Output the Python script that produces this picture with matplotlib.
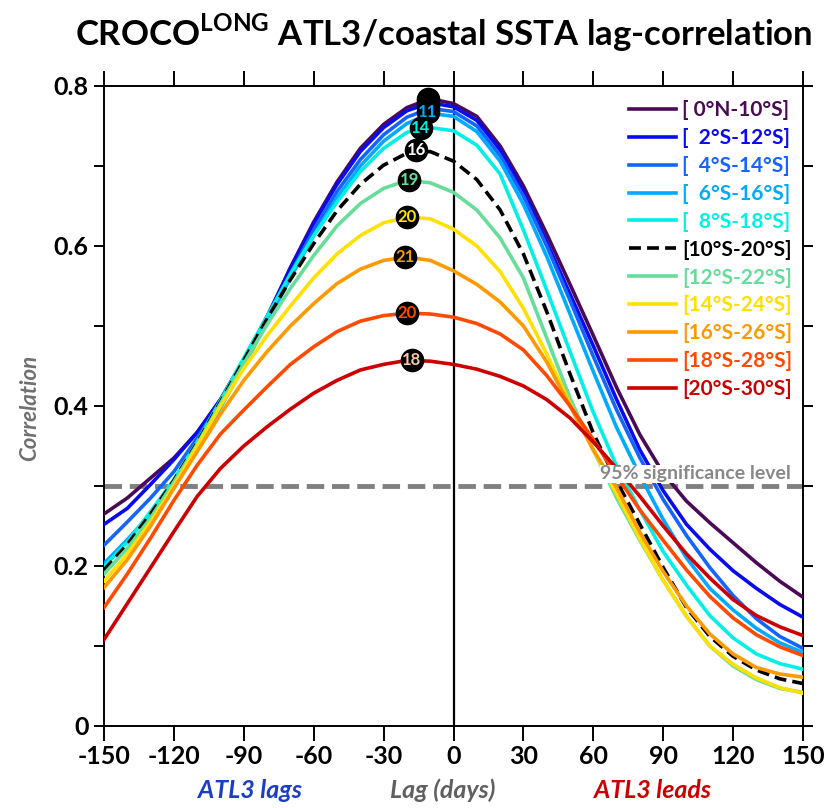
import numpy as np
import matplotlib
matplotlib.use('Agg')
import matplotlib.pyplot as plt

plt.rcParams['font.family'] = ['Lato', 'DejaVu Sans']
plt.rcParams['mathtext.fontset'] = 'custom'
plt.rcParams['mathtext.bf'] = 'Lato:bold'
plt.rcParams['mathtext.rm'] = 'Lato'

# lag in days (negative: ATL3 lags)
lags = [-150, -140, -130, -120, -110, -100, -90, -80, -70, -60, -50, -40, -30, -20, -10,
        0, 10, 20, 30, 40, 50, 60, 70, 80, 90, 100, 110, 120, 130, 140, 150]

r00_10 = [0.265, 0.285, 0.31, 0.335, 0.367, 0.408, 0.458, 0.51, 0.573, 0.63, 0.68, 0.722, 0.752, 0.773, 0.784,
          0.778, 0.762, 0.725, 0.675, 0.615, 0.552, 0.488, 0.423, 0.364, 0.316, 0.281, 0.254, 0.229, 0.204, 0.181, 0.161]
r02_12 = [0.252, 0.272, 0.302, 0.333, 0.367, 0.408, 0.458, 0.512, 0.572, 0.628, 0.677, 0.718, 0.748, 0.769, 0.779,
          0.774, 0.757, 0.72, 0.668, 0.605, 0.54, 0.475, 0.408, 0.345, 0.294, 0.252, 0.221, 0.194, 0.172, 0.152, 0.136]
r04_14 = [0.226, 0.255, 0.285, 0.318, 0.36, 0.405, 0.455, 0.508, 0.565, 0.62, 0.668, 0.708, 0.739, 0.761, 0.772,
          0.768, 0.75, 0.713, 0.662, 0.6, 0.532, 0.462, 0.395, 0.335, 0.283, 0.238, 0.198, 0.163, 0.134, 0.112, 0.097]
r06_16 = [0.203, 0.233, 0.265, 0.303, 0.347, 0.398, 0.45, 0.505, 0.56, 0.613, 0.66, 0.7, 0.731, 0.753, 0.766,
          0.762, 0.743, 0.706, 0.652, 0.587, 0.515, 0.443, 0.373, 0.313, 0.258, 0.21, 0.172, 0.145, 0.122, 0.104, 0.092]
r08_18 = [0.199, 0.23, 0.268, 0.308, 0.355, 0.407, 0.46, 0.512, 0.565, 0.613, 0.655, 0.693, 0.722, 0.742, 0.748,
          0.744, 0.726, 0.69, 0.62, 0.545, 0.468, 0.392, 0.325, 0.27, 0.218, 0.176, 0.138, 0.11, 0.09, 0.078, 0.071]
r10_20 = [0.195, 0.227, 0.265, 0.307, 0.354, 0.405, 0.457, 0.509, 0.558, 0.603, 0.644, 0.677, 0.701, 0.716, 0.718,
          0.706, 0.683, 0.645, 0.59, 0.518, 0.44, 0.366, 0.306, 0.252, 0.198, 0.148, 0.112, 0.087, 0.07, 0.059, 0.053]
r12_22 = [0.19, 0.222, 0.26, 0.305, 0.352, 0.403, 0.453, 0.502, 0.547, 0.588, 0.625, 0.653, 0.672, 0.682, 0.679,
          0.667, 0.645, 0.61, 0.56, 0.485, 0.41, 0.345, 0.285, 0.232, 0.182, 0.137, 0.1, 0.075, 0.058, 0.047, 0.042]
r14_24 = [0.181, 0.215, 0.255, 0.30, 0.35, 0.40, 0.447, 0.488, 0.525, 0.56, 0.59, 0.613, 0.629, 0.636, 0.634,
          0.621, 0.60, 0.568, 0.522, 0.465, 0.403, 0.345, 0.29, 0.234, 0.182, 0.137, 0.1, 0.077, 0.06, 0.048, 0.041]
r16_26 = [0.173, 0.208, 0.25, 0.297, 0.343, 0.39, 0.432, 0.468, 0.50, 0.528, 0.553, 0.571, 0.582, 0.586, 0.582,
          0.569, 0.552, 0.53, 0.50, 0.455, 0.40, 0.345, 0.298, 0.242, 0.193, 0.15, 0.115, 0.09, 0.073, 0.065, 0.061]
r18_28 = [0.148, 0.19, 0.235, 0.282, 0.326, 0.365, 0.395, 0.424, 0.452, 0.474, 0.493, 0.506, 0.513, 0.516, 0.515,
          0.511, 0.503, 0.49, 0.47, 0.438, 0.40, 0.358, 0.313, 0.27, 0.232, 0.195, 0.162, 0.135, 0.114, 0.099, 0.088]
r20_30 = [0.108, 0.153, 0.198, 0.243, 0.287, 0.322, 0.35, 0.374, 0.396, 0.416, 0.432, 0.445, 0.452, 0.457, 0.456,
          0.452, 0.446, 0.437, 0.425, 0.408, 0.385, 0.355, 0.322, 0.287, 0.25, 0.215, 0.185, 0.158, 0.138, 0.124, 0.113]

series = [r00_10, r02_12, r04_14, r06_16, r08_18, r10_20, r12_22, r14_24, r16_26, r18_28, r20_30]
names = ['[ 0°N-10°S]', '[  2°S-12°S]', '[  4°S-14°S]', '[  6°S-16°S]', '[  8°S-18°S]', '[10°S-20°S]',
         '[12°S-22°S]', '[14°S-24°S]', '[16°S-26°S]', '[18°S-28°S]', '[20°S-30°S]']
colors = ['#4b0a55', '#0a0af0', '#1464ff', '#00aaff', '#00f0e6', '#000000',
          '#66dd99', '#ffe000', '#ff9900', '#ff4a00', '#cc0000']
txt_colors = ['#4b0a55', '#0a0af0', '#1464ff', '#00aaff', '#00f0e6', '#ffffff',
              '#66dd99', '#ffe000', '#ff9900', '#ff4a00', '#f8c8a8']

# lag of maximum correlation and its value (labels hidden under the stacked dots are left out)
peak_lag = [-11, -11, -11, -11, -14, -16, -19, -20, -21, -20, -18]
peak_val = [0.784, 0.779, 0.774, 0.768, 0.748, 0.720, 0.682, 0.636, 0.586, 0.516, 0.457]
peak_txt = ['', '', '', '11', '14', '16', '19', '20', '21', '20', '18']

fig = plt.figure(figsize=(8.3, 8.08), dpi=100)
ax = fig.add_axes([0.1253, 0.1015, 0.8422, 0.7921])

for i in range(len(series)):
    if i == 5:
        ax.plot(lags, series[i], color=colors[i], lw=2.6, dashes=(3.3, 1.7), label=names[i], zorder=3)
    else:
        ax.plot(lags, series[i], color=colors[i], lw=2.6, label=names[i], zorder=3)

ax.axhline(0.3, color='#808080', lw=3.5, dashes=(3.6, 1.6), zorder=2)
ax.axvline(0, color='k', lw=1.6, zorder=2)
ax.text(145, 0.315, '95% significance level', color='#888888', fontsize=14, fontweight='bold',
        ha='right', va='center', zorder=4,
        bbox=dict(facecolor='white', edgecolor='none', pad=0.5))

for i in range(len(series)):
    ax.plot(peak_lag[i], peak_val[i], 'o', ms=16, mfc='k', mec='k', zorder=10 + 2 * i)
    if peak_txt[i]:
        ax.text(peak_lag[i], peak_val[i], peak_txt[i], color=txt_colors[i], fontsize=12,
                fontweight='bold', ha='center', va='center', zorder=11 + 2 * i)

ax.set_xlim(-150, 150)
ax.set_ylim(0, 0.8)
xt = [-150, -120, -90, -60, -30, 0, 30, 60, 90, 120, 150]
ax.set_xticks(xt, [str(v) for v in xt], fontsize=18, fontweight='bold')
yt = [0, 0.1, 0.2, 0.3, 0.4, 0.5, 0.6, 0.7, 0.8]
ylab = ['0', '', '0.2', '', '0.4', '', '0.6', '', '0.8']
ax.set_yticks(yt, ylab, fontsize=18, fontweight='bold')
ax.tick_params(axis='x', direction='out', length=11, width=1.4, top=True, pad=3)
ax.tick_params(axis='y', direction='out', length=7, width=1.4, right=True, pad=4)
for s in ax.spines.values():
    s.set_linewidth(1.4)

leg = ax.legend(loc='upper right', bbox_to_anchor=(0.985, 0.978), frameon=False,
                prop={'weight': 'bold', 'size': 15}, handlelength=2.25, handletextpad=0.3,
                labelspacing=0.38, borderaxespad=0, borderpad=0)
for t, c in zip(leg.get_texts(), colors):
    t.set_color(c)

fig.text(0.535, 1 - 33 / 808, r'CROCO$^{\mathbf{LONG}}$ ATL3/coastal SSTA lag-correlation',
         ha='center', va='center', fontsize=25, fontweight='bold')
fig.text(30 / 830, 1 - 408 / 808, 'Correlation', rotation=90, ha='center', va='center',
         fontsize=16, fontweight='bold', style='italic', color='#707070')
fig.text(250 / 830, 1 - 790 / 808, 'ATL3 lags', ha='center', va='center',
         fontsize=18, fontweight='bold', style='italic', color='#1a3fc4')
fig.text(443 / 830, 1 - 790 / 808, 'Lag (days)', ha='center', va='center',
         fontsize=18, fontweight='bold', style='italic', color='#606060')
fig.text(652 / 830, 1 - 790 / 808, 'ATL3 leads', ha='center', va='center',
         fontsize=18, fontweight='bold', style='italic', color='#cc0000')

fig.savefig('out.png', dpi=100)
